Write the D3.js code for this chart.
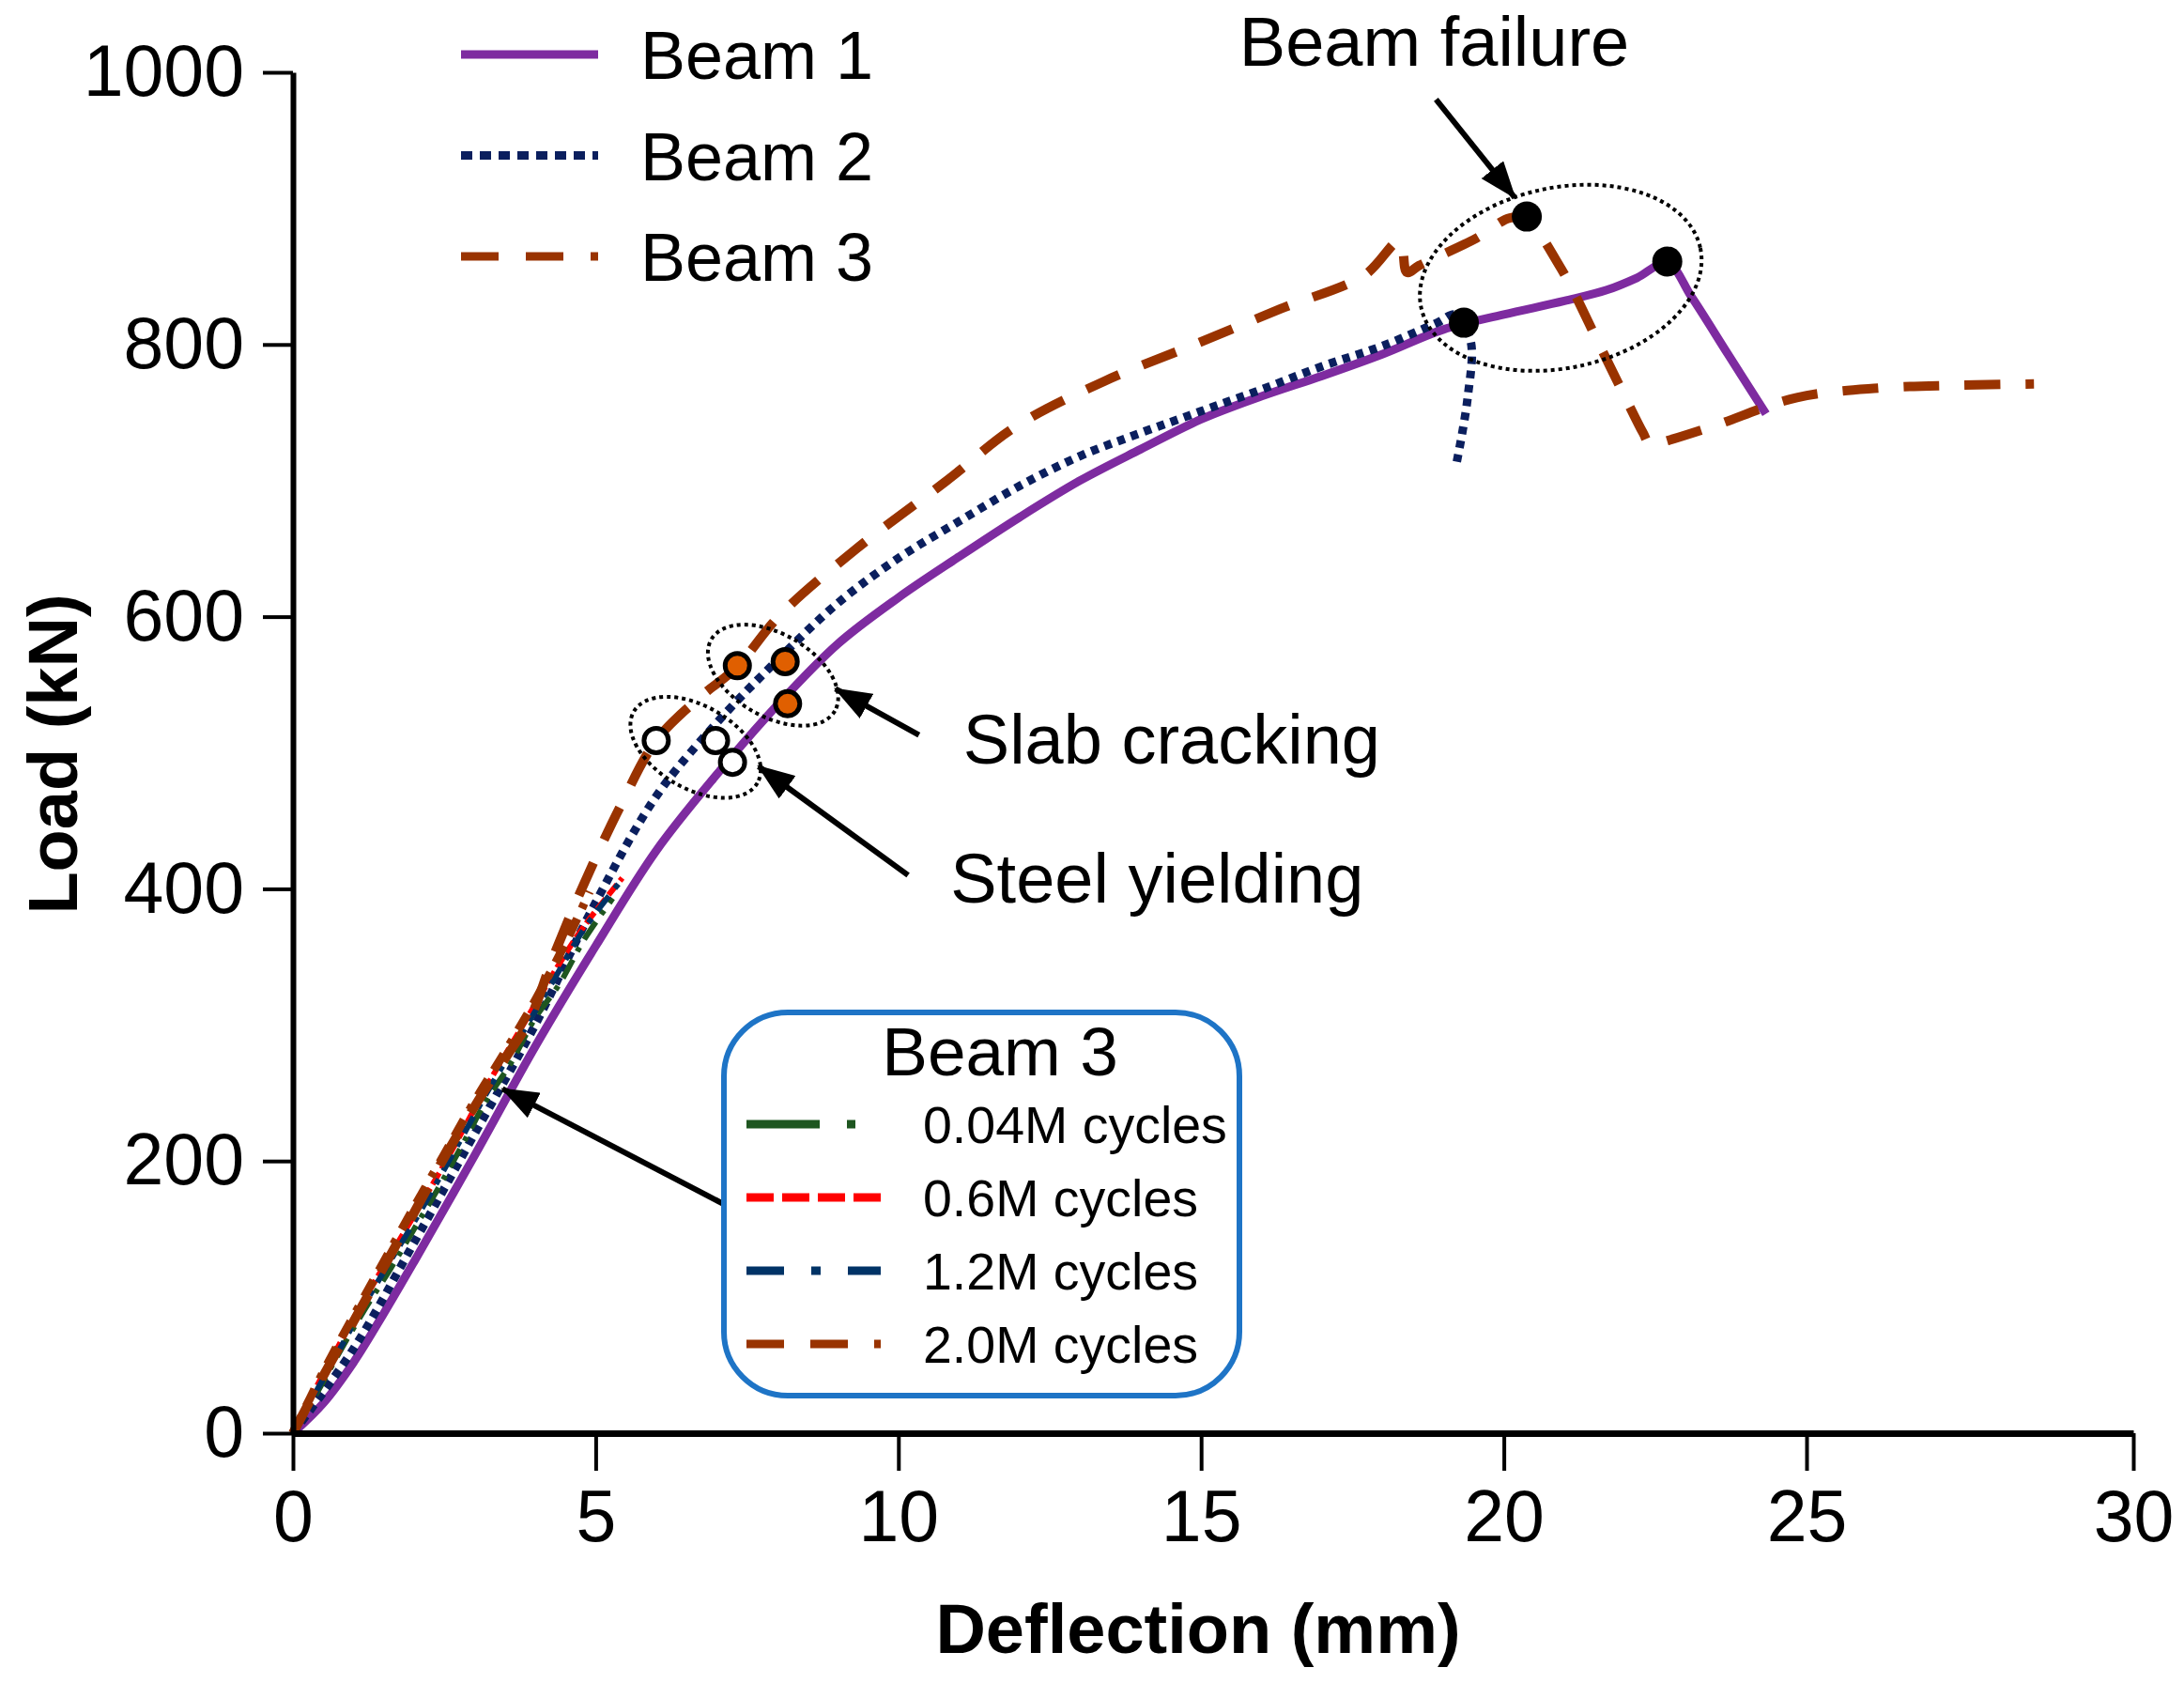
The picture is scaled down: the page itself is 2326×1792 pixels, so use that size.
<!DOCTYPE html>
<html>
<head>
<meta charset="utf-8">
<script src="https://cdn.jsdelivr.net/npm/d3@7"></script>
<style>
  body { margin: 0; background: #fff; }
  text { font-family: "Liberation Sans", Arial, sans-serif; fill: #000; }
</style>
</head>
<body>
<svg id="chart"></svg>
<script>
// Data (deflection mm, load kN)
const beam1 = [[0,0],[0.5,22],[1,52],[1.5,88],[2,126],[3,204],[4,284],[5,358],[6,428],[7,484],[8,535],[9,580],[10,614],[11,644],[12,673],[13,700],[14,723],[15,745],[16,762],[17,777],[18,793],[19,811],[20,822],[21,832],[21.7,840],[22.2,849],[22.7,860],[23.1,835],[23.7,793],[24.33,749]];
const beam2 = [[0,0],[1,62],[2,140],[3,220],[4,300],[5,390],[6,468],[7,522],[8,568],[9,610],[10,643],[11,670],[12,696],[13,718],[14,735],[15,751],[16,767],[17,784],[18,799],[18.9,816],[19.2,822],[19.45,803],[19.4,760],[19.22,713]];
const beam3 = [[0,0],[0.5,42],[1,82],[1.5,122],[2,162],[2.48,201],[3,240],[3.5,275],[3.9,303],[4.3,350],[4.78,401],[5.4,460],[6,509],[6.7,540],[7.33,563],[8.04,601],[9.31,650],[10.8,700],[11.95,740],[13.4,773],[14.95,801],[16.3,826],[17.7,851],[18.28,876],[18.4,853],[18.6,858],[19.54,878],[20.1,893],[20.37,892],[20.93,857],[21.62,796],[22.3,735],[22.42,726],[22.6,728],[23.46,740],[24.84,761],[26.12,768],[27.3,770],[28.48,771]];
const cyc004 = [[0,0],[0.4,30],[0.8,62],[1.2,92],[1.6,120],[2,150],[2.4,180],[2.8,212],[3.2,245],[3.6,272],[4,305],[4.4,330],[4.8,362],[5.28,393]];
const cyc06 = [[0,0],[0.4,35],[0.8,68],[1.2,100],[1.6,130],[2,160],[2.4,190],[2.8,222],[3.2,255],[3.6,285],[4,315],[4.4,345],[4.8,372],[5.44,408]];
const cyc12 = [[0,0],[0.4,32],[0.8,64],[1.2,96],[1.6,126],[2,155],[2.4,186],[2.8,218],[3.2,250],[3.6,280],[4,310],[4.4,340],[4.8,370],[5.4,405]];
const cyc20 = [[0,0],[0.5,45],[1,86],[1.5,126],[2,166],[2.5,205],[3,244],[3.5,280],[4,318],[4.5,360],[4.9,398]];

const failurePts = [[20.38,894],[22.7,861],[19.34,816]];
const crackPts = [[7.34,564],[8.13,567],[8.17,536]];
const yieldPts = [[6.0,509],[6.98,509],[7.26,493]];

const xTicks = [0, 5, 10, 15, 20, 25, 30];
const yTicks = [0, 200, 400, 600, 800, 1000];

const mainLegend = ["Beam 1", "Beam 2", "Beam 3"];
const cycleLegend = ["0.04M cycles", "0.6M cycles", "1.2M cycles", "2.0M cycles"];

const width = 2326, height = 1792;
const svg = d3.select("#chart").attr("width", width).attr("height", height);
svg.append("rect").attr("width", width).attr("height", height).attr("fill", "#fff");

// the "30" tick sits a bit further out than the others in the original
const x = d3.scaleLinear().domain([0, 25, 30]).range([312, 1924, 2272]);
const y = d3.scaleLinear().domain([0, 1000]).range([1526, 77]);

const line = d3.line()
  .x(d => x(d[0]))
  .y(d => y(d[1]))
  .curve(d3.curveCatmullRom.alpha(0.5));

// arrow head
svg.append("defs").append("marker")
  .attr("id", "arrow")
  .attr("viewBox", "0 0 40 30")
  .attr("refX", 38).attr("refY", 15)
  .attr("markerWidth", 40).attr("markerHeight", 30)
  .attr("markerUnits", "userSpaceOnUse")
  .attr("orient", "auto")
  .append("path").attr("d", "M0,0 L40,15 L0,30 Z").attr("fill", "#000");

// series styles
const series = [
  { data: beam1, color: "#7e2ba0", w: 9, dash: null },
  { data: beam2, color: "#0b1f5e", w: 9, dash: "8,7" },
  { data: cyc004, color: "#1e5620", w: 6, dash: "22,10,5,10" },
  { data: cyc06, color: "#ff0000", w: 6, dash: "14,5" },
  { data: cyc12, color: "#003366", w: 6, dash: "20,10,6,10" },
  { data: cyc20, color: "#993300", w: 9, dash: "20,12,20,12,6,12" },
  { data: beam3, color: "#993300", w: 10, dash: "38,27" }
];

const plot = svg.append("g");
plot.selectAll("path.series")
  .data(series)
  .enter()
  .append("path")
  .attr("class", "series")
  .attr("d", d => line(d.data))
  .attr("fill", "none")
  .attr("stroke", d => d.color)
  .attr("stroke-width", d => d.w)
  .attr("stroke-dasharray", d => d.dash)
  .attr("stroke-linejoin", "round");

// axes
const xAxis = svg.append("g")
  .attr("transform", `translate(0,${y(0)})`)
  .call(d3.axisBottom(x).tickValues(xTicks).tickFormat(d3.format("d")).tickSize(40).tickSizeOuter(0).tickPadding(20));
xAxis.select(".domain").attr("stroke-width", 7).attr("stroke", "#000");
xAxis.selectAll(".tick line").attr("stroke-width", 4).attr("stroke", "#000");
xAxis.selectAll(".tick text").attr("font-size", 77).attr("font-family", "Liberation Sans, Arial").attr("fill", "#000");

const yAxis = svg.append("g")
  .attr("transform", `translate(${x(0)},0)`)
  .call(d3.axisLeft(y).tickValues(yTicks).tickFormat(d3.format("d")).tickSize(32).tickSizeOuter(0).tickPadding(20));
yAxis.select(".domain").attr("stroke-width", 6).attr("stroke", "#000");
yAxis.selectAll(".tick line").attr("stroke-width", 4).attr("stroke", "#000");
yAxis.selectAll(".tick text").attr("font-size", 77).attr("font-family", "Liberation Sans, Arial").attr("fill", "#000");

svg.append("text")
  .attr("x", 1276).attr("y", 1760)
  .attr("text-anchor", "middle")
  .attr("font-size", 74).attr("font-weight", "bold")
  .text("Deflection (mm)");

svg.append("text")
  .attr("transform", "translate(82,803) rotate(-90)")
  .attr("text-anchor", "middle")
  .attr("font-size", 74).attr("font-weight", "bold")
  .text("Load (kN)");

// annotations: dotted ellipses, markers, arrows, labels
const ann = svg.append("g");
ann.append("ellipse")
  .attr("cx", x(20.94)).attr("cy", y(849))
  .attr("rx", 152).attr("ry", 96)
  .attr("transform", `rotate(-12 ${x(20.94)} ${y(849)})`)
  .attr("fill", "none").attr("stroke", "#000").attr("stroke-width", 4).attr("stroke-dasharray", "4,4");

[[7.93, 557], [6.65, 504]].forEach(c => {
  ann.append("ellipse")
    .attr("cx", x(c[0])).attr("cy", y(c[1]))
    .attr("rx", 76).attr("ry", 44)
    .attr("transform", `rotate(30 ${x(c[0])} ${y(c[1])})`)
    .attr("fill", "none").attr("stroke", "#000").attr("stroke-width", 4).attr("stroke-dasharray", "4,4");
});

ann.selectAll("circle.fail").data(failurePts).enter().append("circle")
  .attr("cx", d => x(d[0])).attr("cy", d => y(d[1])).attr("r", 16).attr("fill", "#000");
ann.selectAll("circle.crack").data(crackPts).enter().append("circle")
  .attr("cx", d => x(d[0])).attr("cy", d => y(d[1])).attr("r", 13)
  .attr("fill", "#e05f00").attr("stroke", "#000").attr("stroke-width", 5);
ann.selectAll("circle.yield").data(yieldPts).enter().append("circle")
  .attr("cx", d => x(d[0])).attr("cy", d => y(d[1])).attr("r", 13)
  .attr("fill", "#fff").attr("stroke", "#000").attr("stroke-width", 5);

const arrows = [
  [[18.88, 980], [20.18, 908]],
  [[10.34, 513], [8.96, 547]],
  [[10.16, 410], [7.69, 490]],
  [[7.13, 168], [3.46, 253]]
];
ann.selectAll("line.arrow").data(arrows).enter().append("line")
  .attr("x1", d => x(d[0][0])).attr("y1", d => y(d[0][1]))
  .attr("x2", d => x(d[1][0])).attr("y2", d => y(d[1][1]))
  .attr("stroke", "#000").attr("stroke-width", 6)
  .attr("marker-end", "url(#arrow)");

const labels = [
  { t: "Beam failure", at: [15.63, 1005] },
  { t: "Slab cracking", at: [11.07, 492] },
  { t: "Steel yielding", at: [10.86, 390] }
];
ann.selectAll("text.lbl").data(labels).enter().append("text")
  .attr("x", d => x(d.at[0])).attr("y", d => y(d.at[1]))
  .attr("font-size", 74)
  .text(d => d.t);

// top legend
const legStyles = [
  { color: "#7e2ba0", dash: null },
  { color: "#0b1f5e", dash: "12,8" },
  { color: "#993300", dash: "40,29" }
];
const leg = svg.append("g");
const legRows = leg.selectAll("g").data(mainLegend).enter().append("g")
  .attr("transform", (d, i) => `translate(491,${58 + i * 107.5})`);
legRows.append("line")
  .attr("x1", 0).attr("x2", 146).attr("y1", 0).attr("y2", 0)
  .attr("stroke", (d, i) => legStyles[i].color)
  .attr("stroke-width", 9)
  .attr("stroke-dasharray", (d, i) => legStyles[i].dash);
legRows.append("text")
  .attr("x", 191).attr("y", 26)
  .attr("font-size", 72)
  .text(d => d);

// Beam 3 cycles legend box
const box = svg.append("g").attr("transform", "translate(771,1078)");
box.append("rect")
  .attr("width", 549).attr("height", 408)
  .attr("rx", 68).attr("ry", 68)
  .attr("fill", "#fff").attr("stroke", "#1e74c6").attr("stroke-width", 6);
box.append("text")
  .attr("x", 294).attr("y", 67)
  .attr("text-anchor", "middle")
  .attr("font-size", 73)
  .text("Beam 3");
const cycStyles = [
  { color: "#1e5620", dash: "78,29,9,40" },
  { color: "#ff0000", dash: "29,9" },
  { color: "#003366", dash: "40,29,10,29" },
  { color: "#993300", dash: "40,28,40,28,10,28" }
];
const cycRows = box.selectAll("g.row").data(cycleLegend).enter().append("g")
  .attr("class", "row")
  .attr("transform", (d, i) => `translate(0,${119 + i * 78})`);
cycRows.append("line")
  .attr("x1", 24).attr("x2", 167).attr("y1", 0).attr("y2", 0)
  .attr("stroke", (d, i) => cycStyles[i].color)
  .attr("stroke-width", 9)
  .attr("stroke-dasharray", (d, i) => cycStyles[i].dash);
cycRows.append("text")
  .attr("x", 212).attr("y", 20)
  .attr("font-size", 55.5)
  .text(d => d);
</script>
</body>
</html>
